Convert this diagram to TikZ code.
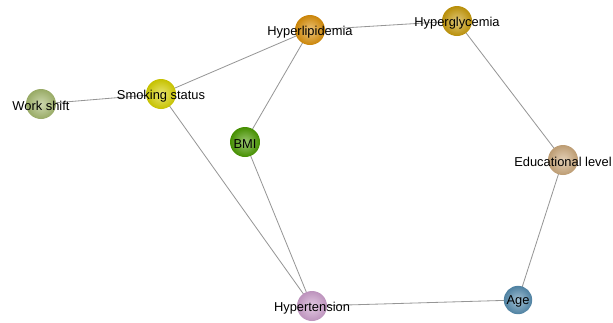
\documentclass[tikz,border=0pt]{standalone}
\usepackage{fontspec}
\setmainfont{Liberation Sans}
\usetikzlibrary{backgrounds}
\definecolor{olive}{RGB}{165,185,110}
\definecolor{lemon}{RGB}{215,210,0}
\definecolor{amber}{RGB}{220,145,10}
\definecolor{gold}{RGB}{200,155,10}
\definecolor{leaf}{RGB}{75,155,0}
\definecolor{sand}{RGB}{205,170,125}
\definecolor{mauve}{RGB}{205,160,205}
\definecolor{steel}{RGB}{85,140,175}
\definecolor{wire}{RGB}{150,150,150}
\tikzset{
  ball/.style={circle,shade,inner color=#1!55!white,outer color=#1!92!black,
    minimum size=9mm,inner sep=0pt},
  ball/.default=gray,
  tag/.style={font=\fontsize{11}{13}\selectfont,text=black,yshift=-1.5pt},
  link/.style={draw=wire,line width=0.7pt},
}
\begin{document}
\begin{tikzpicture}[x=0.03cm,y=-0.03cm]
  \useasboundingbox (0,0) rectangle (613,322);
  \node[ball=olive,label={[tag]center:Work shift}] (work) at (41,104) {};
  \node[ball=lemon,label={[tag]center:Smoking status}] (smoke) at (161,94) {};
  \node[ball=amber,label={[tag]center:Hyperlipidemia}] (lipid) at (310,30) {};
  \node[ball=gold,label={[tag]center:Hyperglycemia}] (glyc) at (457,21) {};
  \node[ball=leaf,label={[tag]center:BMI}] (bmi) at (245,142) {};
  \node[ball=sand,label={[tag]center:Educational level}] (edu) at (563,160) {};
  \node[ball=mauve,label={[tag]center:Hypertension}] (tens) at (312,306) {};
  \node[ball=steel,minimum size=8.5mm,label={[tag]center:Age}] (age) at (518,300) {};
  \begin{scope}[on background layer]
    \draw[link] (work.center) -- (smoke.center);
    \draw[link] (smoke.center) -- (lipid.center);
    \draw[link] (smoke.center) -- (tens.center);
    \draw[link] (lipid.center) -- (glyc.center);
    \draw[link] (lipid.center) -- (bmi.center);
    \draw[link] (bmi.center) -- (tens.center);
    \draw[link] (glyc.center) -- (edu.center);
    \draw[link] (edu.center) -- (age.center);
    \draw[link] (age.center) -- (tens.center);
  \end{scope}
\end{tikzpicture}
\end{document}
